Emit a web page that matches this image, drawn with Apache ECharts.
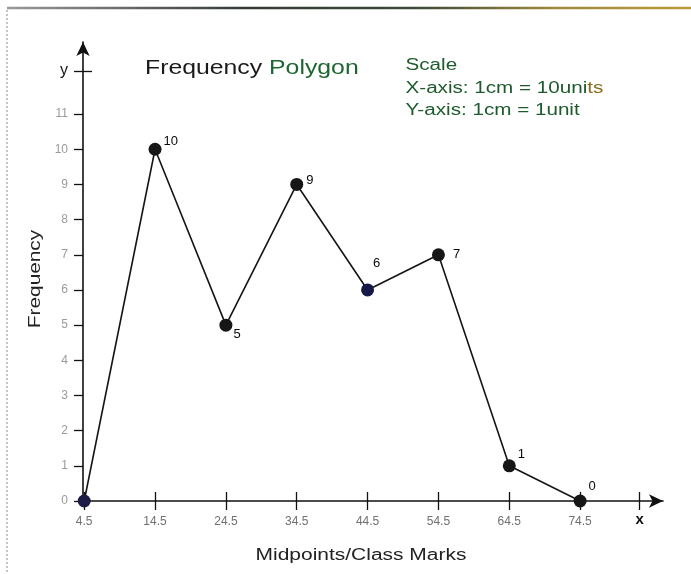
<!DOCTYPE html>
<html>
<head>
<meta charset="utf-8">
<script src="https://cdn.jsdelivr.net/npm/echarts@6/dist/echarts.min.js"></script>
<style>
html,body{margin:0;padding:0;background:#fff;}
#chart{width:691px;height:574px;}
</style>
</head>
<body>
<div id="chart"></div>
<script>
// ---- data ----
const midpoints = [4.5, 14.5, 24.5, 34.5, 44.5, 54.5, 64.5, 74.5];
const frequencies = [0, 10, 5, 9, 6, 7, 1, 0];
const pointLabels = ['', '10', '5', '9', '6', '7', '1', '0'];
const xTickValues = [4.5, 14.5, 24.5, 34.5, 44.5, 54.5, 64.5, 74.5, 82.9];
const xTickLabels = ['4.5', '14.5', '24.5', '34.5', '44.5', '54.5', '64.5', '74.5', 'x'];
const yTickValues = [0, 1, 2, 3, 4, 5, 6, 7, 8, 9, 10, 11, 12.23];
const yTickLabels = ['0', '1', '2', '3', '4', '5', '6', '7', '8', '9', '10', '11', 'y'];
const titleMain = 'Frequency ';
const titleGreen = 'Polygon';
const scaleLines = ['Scale', 'X-axis: 1cm = 10uni', 'ts', 'Y-axis: 1cm = 1unit'];
const xName = 'Midpoints/Class Marks';
const yName = 'Frequency';

// ---- styles (not data) ----
const FONT = '"Liberation Sans", Arial, Helvetica, sans-serif';
const GREEN = '#1d5a2c';
const pointColors = ['#1c1c46', '#161616', '#161616', '#161616', '#181848', '#161616', '#161616', '#161616'];
const labelPlacement = [
  {position: 'right', offset: [0, 0]},
  {position: 'right', offset: [-3, -8]},
  {position: 'right', offset: [-4, 9]},
  {position: 'right', offset: [-2, -4]},
  {position: 'top', offset: [9, -9]},
  {position: 'right', offset: [3, 0]},
  {position: 'right', offset: [-3, -11]},
  {position: 'right', offset: [-3, -15]}
];

const X_MIN = 4.33, X_MAX = 86.2, Y_MIN = 0, Y_MAX = 13.05;

const seriesData = midpoints.map((m, i) => ({
  value: [m, frequencies[i]],
  itemStyle: {color: pointColors[i]},
  label: {
    show: pointLabels[i] !== '',
    formatter: pointLabels[i],
    position: labelPlacement[i].position,
    offset: labelPlacement[i].offset
  }
}));

const chart = echarts.init(document.getElementById('chart'), null, {renderer: 'canvas'});

const option = {
  animation: false,
  backgroundColor: '#ffffff',
  textStyle: {fontFamily: FONT},
  grid: {left: 83, right: 28, top: 42, bottom: 73, containLabel: false},
  xAxis: [
    {
      type: 'value', min: X_MIN, max: X_MAX, position: 'bottom',
      splitLine: {show: false},
      axisLine: {show: true, onZero: false, symbol: ['none', 'arrow'], symbolSize: [10, 14],
        lineStyle: {color: '#111', width: 1.6}},
      axisTick: {show: true, customValues: xTickValues, length: 9, lineStyle: {color: '#111', width: 1.3}},
      axisLabel: {
        show: true, customValues: xTickValues, margin: 15,
        formatter: function (v) {
          const i = xTickValues.findIndex(t => Math.abs(t - v) < 1e-6);
          const s = i >= 0 ? xTickLabels[i] : '';
          return s === 'x' ? '{b|' + s + '}' : '{g|' + s + '}';
        },
        rich: {
          g: {fontSize: 12, color: '#707070', fontFamily: FONT},
          b: {fontSize: 15, color: '#111', fontWeight: 'bold', fontFamily: FONT, lineHeight: 8}
        }
      }
    },
    {
      type: 'value', min: X_MIN, max: X_MAX, position: 'bottom',
      splitLine: {show: false},
      axisLine: {show: false, onZero: false},
      axisTick: {show: true, inside: true, customValues: xTickValues, length: 9, lineStyle: {color: '#111', width: 1.3}},
      axisLabel: {show: false}
    }
  ],
  yAxis: [
    {
      type: 'value', min: Y_MIN, max: Y_MAX, position: 'left',
      splitLine: {show: false},
      axisLine: {show: true, onZero: false, symbol: ['none', 'arrow'], symbolSize: [10, 14],
        lineStyle: {color: '#111', width: 1.6}},
      axisTick: {show: true, customValues: yTickValues, length: 9, lineStyle: {color: '#111', width: 1.3}},
      axisLabel: {
        show: true, customValues: yTickValues, margin: 15,
        formatter: function (v) {
          const i = yTickValues.findIndex(t => Math.abs(t - v) < 1e-6);
          const s = i >= 0 ? yTickLabels[i] : '';
          return s === 'y' ? '{b|' + s + '}' : '{g|' + s + '}';
        },
        rich: {
          g: {fontSize: 12, color: '#9a9a9a', fontFamily: FONT},
          b: {fontSize: 16, color: '#111', fontFamily: FONT}
        }
      }
    },
    {
      type: 'value', min: Y_MIN, max: Y_MAX, position: 'left',
      splitLine: {show: false},
      axisLine: {show: false, onZero: false},
      axisTick: {show: true, inside: true, customValues: [yTickValues[yTickValues.length - 1]], length: 9,
        lineStyle: {color: '#111', width: 1.3}},
      axisLabel: {show: false}
    }
  ],
  series: [{
    type: 'line',
    xAxisIndex: 0, yAxisIndex: 0,
    data: seriesData,
    symbol: 'circle',
    symbolSize: 13,
    z: 5,
    lineStyle: {color: '#151515', width: 1.6},
    label: {color: '#0a0a0a', fontSize: 13, fontFamily: FONT, distance: 5}
  }],
  graphic: [
    {type: 'line', z: -1, shape: {x1: 7, y1: 8, x2: 691, y2: 8},
      style: {stroke: new echarts.graphic.LinearGradient(0, 0, 1, 0, [
        {offset: 0, color: '#9a9a9a'}, {offset: 0.35, color: '#333a33'},
        {offset: 0.6, color: '#3d4a3a'}, {offset: 0.8, color: '#a08a3a'}, {offset: 1, color: '#b89a3a'}]),
        lineWidth: 2.5}},
    {type: 'line', z: -1, shape: {x1: 7, y1: 10, x2: 7, y2: 574},
      style: {stroke: '#8a8a8a', lineWidth: 1, lineDash: [2, 2]}},
    {type: 'text', x: 145, y: 68, scaleX: 1.24,
      style: {text: '{a|' + titleMain + '}{b|' + titleGreen + '}', verticalAlign: 'middle', align: 'left',
        rich: {a: {fontSize: 20, fill: '#1a1a1a', fontFamily: FONT}, b: {fontSize: 20, fill: '#1e6630', fontFamily: FONT}}}},
    {type: 'text', x: 405.5, y: 66, scaleX: 1.29,
      style: {text: scaleLines[0], fontSize: 16, fontFamily: FONT, fill: GREEN, verticalAlign: 'middle', align: 'left'}},
    {type: 'text', x: 405.5, y: 89, scaleX: 1.29,
      style: {text: '{a|' + scaleLines[1] + '}{b|' + scaleLines[2] + '}', verticalAlign: 'middle', align: 'left',
        rich: {a: {fontSize: 16, fill: GREEN, fontFamily: FONT}, b: {fontSize: 16, fill: '#8a6a1a', fontFamily: FONT}}}},
    {type: 'text', x: 405.5, y: 110.5, scaleX: 1.29,
      style: {text: scaleLines[3], fontSize: 16, fontFamily: FONT, fill: GREEN, verticalAlign: 'middle', align: 'left'}},
    {type: 'text', x: 361, y: 556, scaleX: 1.31,
      style: {text: xName, fontSize: 16, fontFamily: FONT, fill: '#222', verticalAlign: 'middle', align: 'center'}},
    {type: 'text', x: 35.5, y: 279, rotation: Math.PI / 2, scaleX: 1.3,
      style: {text: yName, fontSize: 16, fontFamily: FONT, fill: '#222', verticalAlign: 'middle', align: 'center'}}
  ]
};

chart.setOption(option);
</script>
</body>
</html>
